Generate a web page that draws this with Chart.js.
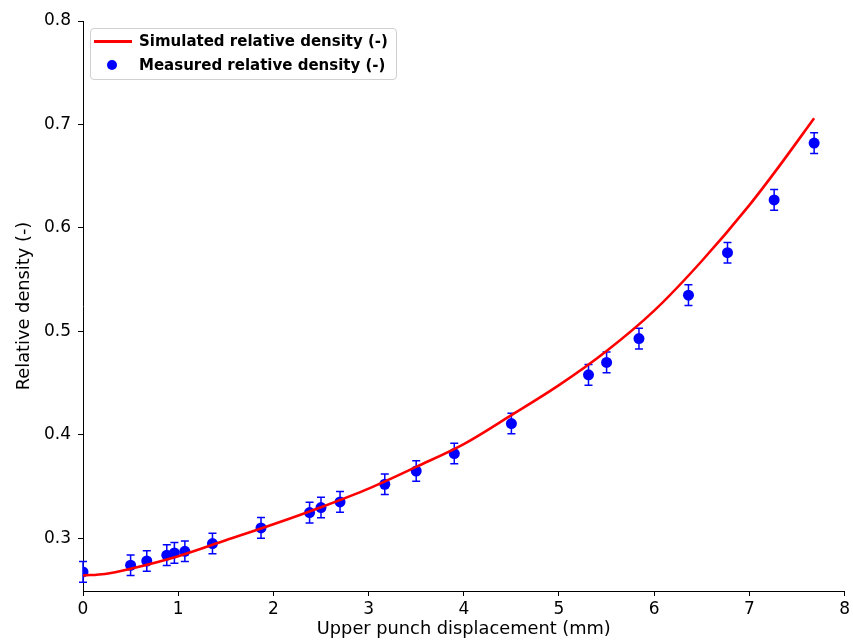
<!DOCTYPE html>
<html>
<head>
<meta charset="utf-8">
<script src="https://cdn.jsdelivr.net/npm/chart.js@4/dist/chart.umd.min.js"></script>
<style>
  html, body { margin: 0; padding: 0; background: #fff; }
  #wrap { position: relative; width: 853px; height: 642px; }
  #legend {
    position: absolute; left: 90px; top: 28px; width: 307px; height: 52px;
    border: 1px solid #d0d0d0; border-radius: 4px; background: rgba(255,255,255,0.8);
    font: bold 15px "DejaVu Sans", sans-serif; color: #000; box-sizing: border-box;
  }
  .row { position: absolute; left: 0; height: 20px; line-height: 20px; white-space: nowrap; }
  .row span.t { position: absolute; left: 48px; top: 0; }
  .sw-line { position: absolute; left: 3px; top: 9px; width: 38px; height: 3px; background: #ff0000; }
  .sw-dot { position: absolute; left: 16px; top: 5px; width: 10px; height: 10px; border-radius: 50%; background: #0000ff; }
</style>
</head>
<body>
<div id="wrap">
  <canvas id="c" width="853" height="642"></canvas>
  <div id="legend">
    <div class="row" style="top:2px"><div class="sw-line"></div><span class="t">Simulated relative density (-)</span></div>
    <div class="row" style="top:26px"><div class="sw-dot"></div><span class="t">Measured relative density (-)</span></div>
  </div>
</div>
<script>
// ---- data ----
const simX = [0, 0.23, 0.5, 1.0, 1.5, 2.0, 2.5, 3.0, 3.5, 4.0, 4.5, 5.0, 5.5, 6.0, 6.5, 7.0, 7.3, 7.68];
const simY = [0.264, 0.2655, 0.2705, 0.2826, 0.298, 0.3135, 0.330, 0.348, 0.369, 0.391, 0.419, 0.448, 0.481, 0.520, 0.568, 0.622, 0.658, 0.706];

const measX = [0, 0.50, 0.67, 0.88, 0.96, 1.07, 1.36, 1.87, 2.38, 2.50, 2.70, 3.17, 3.50, 3.90, 4.50, 5.31, 5.50, 5.84, 6.36, 6.77, 7.26, 7.68];
const measY = [0.2674, 0.2739, 0.278, 0.2836, 0.2858, 0.2874, 0.2949, 0.310, 0.3248, 0.3297, 0.3351, 0.3522, 0.365, 0.3819, 0.4109, 0.458, 0.470, 0.493, 0.535, 0.576, 0.627, 0.682];
const measErr = [0.01, 0.01, 0.01, 0.01, 0.01, 0.01, 0.01, 0.01, 0.01, 0.01, 0.01, 0.01, 0.01, 0.01, 0.01, 0.01, 0.01, 0.01, 0.01, 0.01, 0.01, 0.01];

const xTicks = [0, 1, 2, 3, 4, 5, 6, 7, 8];
const yTicks = [0.3, 0.4, 0.5, 0.6, 0.7, 0.8];

const simData = simX.map((x, i) => ({ x: x, y: simY[i] }));
const measData = measX.map((x, i) => ({ x: x, y: measY[i], e: measErr[i] }));

const errorBars = {
  id: 'errorBars',
  afterDatasetDraw(chart, args) {
    if (args.index !== 1) return;
    const ctx = chart.ctx, xs = chart.scales.x, ys = chart.scales.y;
    ctx.save();
    ctx.strokeStyle = '#0000ff';
    ctx.lineWidth = 1.5;
    ctx.beginPath();
    measData.forEach(p => {
      const px = xs.getPixelForValue(p.x);
      const y1 = ys.getPixelForValue(p.y - p.e);
      const y2 = ys.getPixelForValue(p.y + p.e);
      ctx.moveTo(px, y1); ctx.lineTo(px, y2);
      ctx.moveTo(px - 4, y1); ctx.lineTo(px + 4, y1);
      ctx.moveTo(px - 4, y2); ctx.lineTo(px + 4, y2);
    });
    ctx.stroke();
    ctx.restore();
  }
};

const font = { family: '"DejaVu Sans", sans-serif', size: 17 };
const titleFont = { family: '"DejaVu Sans", sans-serif', size: 17.8 };

new Chart(document.getElementById('c'), {
  type: 'scatter',
  data: {
    datasets: [
      {
        label: 'Simulated relative density (-)',
        data: simData,
        showLine: true,
        borderColor: '#ff0000',
        borderWidth: 2.6,
        pointRadius: 0,
        cubicInterpolationMode: 'monotone',
        order: 0
      },
      {
        label: 'Measured relative density (-)',
        data: measData,
        backgroundColor: '#0000ff',
        borderWidth: 0,
        pointRadius: 5.5,
        order: 1
      }
    ]
  },
  options: {
    responsive: false,
    animation: false,
    devicePixelRatio: 1,
    layout: { padding: { left: 0, right: 8, top: 21, bottom: 0 } },
    plugins: { legend: { display: false }, tooltip: { enabled: false } },
    scales: {
      x: {
        type: 'linear', min: 0, max: 8,
        afterBuildTicks(s) { s.ticks = xTicks.map(v => ({ value: v })); },
        afterFit(s) { s.height = 51; },
        border: { display: true, color: '#000', width: 1 },
        grid: { display: true, drawOnChartArea: false, drawTicks: true, tickLength: 5, color: '#000' },
        ticks: { color: '#000', font: font, padding: 3, maxRotation: 0, callback: v => String(v) },
        title: { display: true, text: 'Upper punch displacement (mm)', color: '#000', font: titleFont, padding: { top: 0, bottom: 2 } }
      },
      y: {
        type: 'linear', min: 0.249, max: 0.8,
        afterBuildTicks(s) { s.ticks = yTicks.map(v => ({ value: v })); },
        afterFit(s) { s.width = 83; },
        border: { display: true, color: '#000', width: 1 },
        grid: { display: true, drawOnChartArea: false, drawTicks: true, tickLength: 5, color: '#000' },
        ticks: { color: '#000', font: font, padding: 7, callback: v => Number(v).toFixed(1) },
        title: { display: true, text: 'Relative density (-)', color: '#000', font: titleFont, padding: { top: 14, bottom: 0 } }
      }
    }
  },
  plugins: [errorBars]
});
</script>
</body>
</html>
